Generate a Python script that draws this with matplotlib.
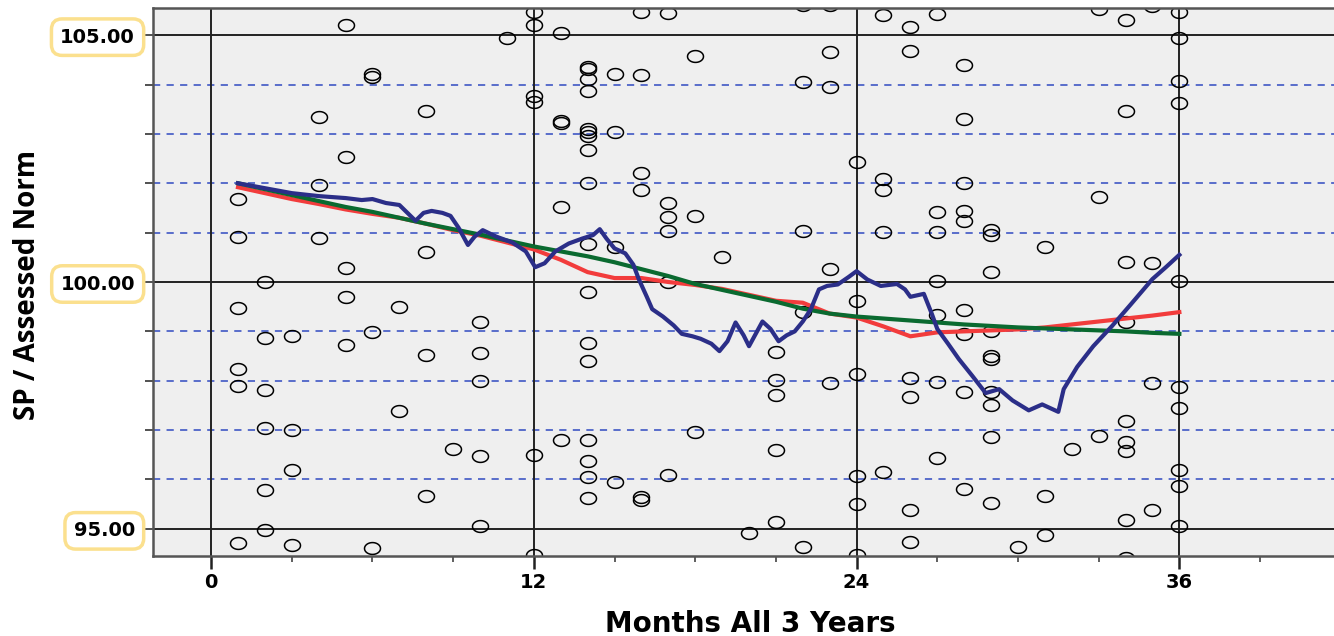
"""
SP / Assessed Norm by month, with three trend lines.
"""

import matplotlib
matplotlib.use('Agg')
import matplotlib.pyplot as plt
import numpy as np
from matplotlib.path import Path
from matplotlib.ticker import FixedLocator

# scatter points: month and value
pt_month = ([1] * 6 + [2] * 6 + [3] * 4 + [4] * 3 + [5] * 5 + [6] * 4 + [7] * 2 + [8] * 4
            + [9] + [10] * 5 + [11] + [12] * 6 + [13] * 5 + [14] * 17 + [15] * 4
            + [16] * 6 + [17] * 6 + [18] * 3 + [19] + [20] + [21] * 5 + [22] * 5
            + [23] * 5 + [24] * 6 + [25] * 5 + [26] * 6 + [27] * 7 + [28] * 9
            + [29] * 10 + [30] + [31] * 3 + [32] + [33] * 3 + [34] * 9 + [35] * 4
            + [36] * 10)
pt_value = [
    101.68, 100.91, 99.47, 98.24, 97.89, 94.72,
    100.00, 98.87, 97.81, 97.04, 95.79, 94.98,
    98.91, 97.00, 96.19, 94.68,
    103.34, 101.96, 100.89,
    105.20, 102.53, 100.28, 99.70, 98.72,
    104.21, 104.15, 98.99, 94.62,
    99.49, 97.39,
    103.46, 100.60, 98.52, 95.67,
    96.62,
    99.19, 98.56, 98.00, 96.48, 95.06,
    104.94,
    105.47, 105.20, 103.77, 103.64, 96.50, 94.47,
    105.04, 103.26, 103.22, 101.52, 96.80,
    104.35, 104.31, 104.11, 103.87, 103.10, 103.04, 102.96, 102.67, 102.00,
    100.77, 99.80, 98.77, 98.40, 96.80, 96.38, 96.05, 95.63,
    104.21, 103.04, 100.71, 95.95,
    105.47, 104.19, 102.20, 101.86, 95.65, 95.59,
    105.45, 101.60, 101.32, 101.03, 100.00, 96.09,
    104.57, 101.34, 96.96,
    100.50,
    94.92,
    98.58, 98.02, 97.71, 96.60, 95.14,
    105.62, 104.05, 101.03, 99.39, 94.64,
    105.62, 104.66, 103.95, 100.26, 97.96,
    102.43, 99.62, 98.14, 96.07, 95.50, 94.47,
    105.40, 102.09, 101.86, 101.01, 96.15,
    105.16, 104.68, 98.06, 97.67, 95.38, 94.74,
    105.43, 101.42, 101.01, 100.02, 99.33, 97.98, 96.44,
    104.39, 103.30, 102.00, 101.44, 101.23, 99.43, 98.95, 97.77, 95.81,
    101.05, 100.95, 100.20, 99.00, 98.50, 98.44, 97.77, 97.51, 96.86, 95.53,
    94.64,
    100.71, 95.67, 94.88,
    96.62,
    105.53, 101.72, 96.88,
    105.30, 103.46, 100.40, 99.19, 97.19, 96.76, 96.58, 95.18, 94.40,
    105.59, 100.38, 97.96, 95.38,
    105.47, 104.94, 104.07, 103.62, 100.02, 97.87, 97.45, 96.19, 95.87, 95.06,
]

months = list(range(1, 37))
red_fit = [101.92, 101.80, 101.68, 101.58, 101.47, 101.38, 101.30, 101.18, 101.05,
           100.94, 100.80, 100.66, 100.45, 100.20, 100.08, 100.08, 100.00, 99.94,
           99.86, 99.74, 99.62, 99.58, 99.36, 99.28, 99.10, 98.90, 98.98, 99.00,
           99.02, 99.04, 99.08, 99.14, 99.20, 99.26, 99.32, 99.39]
green_fit = [102.00, 101.88, 101.76, 101.64, 101.52, 101.42, 101.30, 101.18, 101.07,
             100.96, 100.84, 100.72, 100.62, 100.52, 100.40, 100.26, 100.12, 99.96,
             99.84, 99.72, 99.60, 99.46, 99.36, 99.30, 99.26, 99.22, 99.18, 99.14,
             99.11, 99.08, 99.06, 99.04, 99.02, 99.00, 98.97, 98.95]

blue_x = [1.0, 2.0, 3.0, 4.0, 5.0, 5.6, 6.0, 6.5, 7.0, 7.3, 7.6, 7.9, 8.2, 8.6, 8.9,
          9.2, 9.55, 9.8, 10.1, 10.6, 11.2, 11.7, 12.05, 12.4, 12.8, 13.3, 13.8,
          14.2, 14.45, 14.7, 15.0, 15.4, 15.7, 15.9, 16.2, 16.4, 16.8, 17.2, 17.5,
          17.9, 18.2, 18.6, 18.9, 19.2, 19.5, 19.8, 20.0, 20.3, 20.5, 20.8, 21.1,
          21.4, 21.7, 22.0, 22.3, 22.6, 22.9, 23.3, 23.7, 24.0, 24.4, 24.9, 25.5,
          25.8, 26.0, 26.5, 26.8, 27.0, 27.4, 27.8, 28.3, 28.8, 29.3, 29.8, 30.4,
          30.9, 31.5, 31.7, 32.2, 32.8, 33.5, 34.2, 35.0, 35.5, 36.0]
blue_y = [102.00, 101.90, 101.80, 101.74, 101.70, 101.66, 101.68, 101.60, 101.56,
          101.40, 101.24, 101.40, 101.44, 101.40, 101.34, 101.10, 100.75, 100.92,
          101.05, 100.92, 100.80, 100.62, 100.30, 100.38, 100.62, 100.78, 100.88,
          100.95, 101.07, 100.88, 100.68, 100.58, 100.35, 100.06, 99.70, 99.45,
          99.30, 99.12, 98.95, 98.90, 98.85, 98.75, 98.60, 98.80, 99.18, 98.92,
          98.70, 99.00, 99.20, 99.05, 98.80, 98.92, 99.00, 99.20, 99.45, 99.85,
          99.92, 99.95, 100.10, 100.22, 100.05, 99.92, 99.96, 99.85, 99.70, 99.76,
          99.35, 99.05, 98.75, 98.44, 98.10, 97.75, 97.83, 97.60, 97.40, 97.52,
          97.37, 97.83, 98.28, 98.70, 99.11, 99.55, 100.06, 100.30, 100.55]

x_major = [0, 12, 24, 36]
x_minor = [3, 6, 9, 15, 18, 21, 27, 30, 33, 39]
y_major = [95, 100, 105]
y_labels = ['95.00', '100.00', '105.00']
y_minor = [96, 97, 98, 99, 101, 102, 103, 104]

fig = plt.figure(figsize=(13.34, 6.36), dpi=100)
ax = fig.add_axes([153 / 1334, 80 / 636, 1181 / 1334, 548 / 636])
ax.set_facecolor('#efefef')
ax.set_xlim(-2.16, 41.75)
ax.set_ylim(94.45, 105.55)

for v in y_minor:
    ax.axhline(v, color='#4d63c8', lw=1.3, ls=(0, (4, 3.5)), zorder=1)
for v in y_major:
    ax.axhline(v, color='#222222', lw=1.4, zorder=1)
for m in x_major:
    ax.axvline(m, color='#222222', lw=1.4, zorder=1)

# open elliptical markers
t = np.linspace(0, 2 * np.pi, 61)
ellipse = Path(np.column_stack([np.cos(t), 0.74 * np.sin(t)]), closed=True)
ax.plot(pt_month, pt_value, ls='none', marker=ellipse, ms=11.5,
        mfc='none', mec='black', mew=1.1, zorder=2)

ax.plot(months, red_fit, color='#f23c3c', lw=3, zorder=3)
ax.plot(months, green_fit, color='#0a6a30', lw=3, zorder=4)
ax.plot(blue_x, blue_y, color='#2b2e88', lw=3, zorder=5)

ax.set_xticks(x_major)
ax.set_xticklabels([str(m) for m in x_major])
ax.xaxis.set_minor_locator(FixedLocator(x_minor))
ax.set_yticks(y_major)
ax.set_yticklabels(y_labels)
ax.yaxis.set_minor_locator(FixedLocator(y_minor))

ax.tick_params(axis='x', which='major', length=9, width=1.8, color='#222222',
               pad=3, labelsize=14)
ax.tick_params(axis='x', which='minor', length=4, width=1.2, color='#444444')
ax.tick_params(axis='y', which='both', length=6, width=1.2, color='#333333',
               pad=7, labelsize=14)
for lab in ax.get_xticklabels() + ax.get_yticklabels():
    lab.set_fontweight('bold')
for lab in ax.get_yticklabels():
    lab.set_bbox(dict(boxstyle='round,pad=0.45,rounding_size=0.55', fc='white',
                      ec='#fbe08e', lw=2.5))

ax.spines['right'].set_visible(False)
for side in ['left', 'bottom', 'top']:
    ax.spines[side].set_color('#555555')
    ax.spines[side].set_linewidth(1.8)

fig.text(750 / 1334, 4 / 636, 'Months All 3 Years', ha='center', va='baseline',
         fontsize=20, fontweight='bold')
fig.text(28 / 1334, 1 - 285 / 636, 'SP / Assessed Norm', ha='center', va='center',
         rotation=90, fontsize=20, fontweight='bold', family='Open Sans')

fig.savefig('out.png', dpi=100)
